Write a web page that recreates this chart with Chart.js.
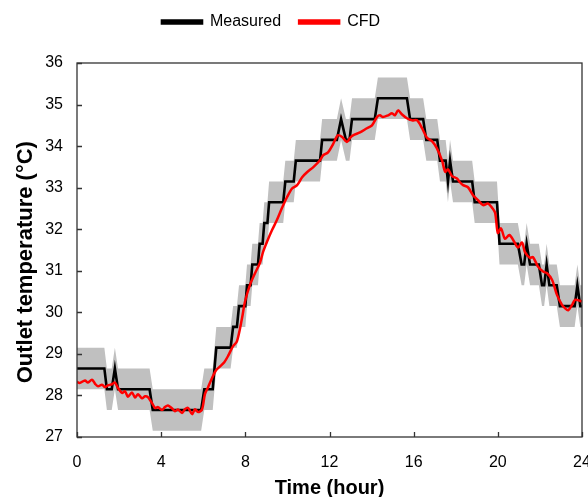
<!DOCTYPE html>
<html>
<head>
<meta charset="utf-8">
<script src="https://cdn.jsdelivr.net/npm/chart.js@4"></script>
<style>
  html, body { margin: 0; padding: 0; background: #fff; }
  #wrap { width: 588px; height: 497px; }
</style>
</head>
<body>
<div id="wrap"><canvas id="c" width="588" height="497"></canvas></div>
<script>
// measured outlet temperature (step-like sensor readings), hour / degC
const measT = [0, 1.3, 1.42, 1.65, 1.8, 1.95, 3.45, 3.6, 5.9, 6.05, 6.45, 6.62, 7.3, 7.42, 7.6, 7.7, 8.0, 8.08, 8.25, 8.33,
    8.6, 8.68, 8.82, 8.9, 9.05, 9.13, 9.8, 9.9, 10.3, 10.4, 11.55, 11.65, 12.35, 12.55, 12.78, 12.95, 13.07, 14.15, 14.3,
    15.68, 15.83, 16.45, 16.6, 17.12, 17.25, 17.52, 17.63, 17.73, 17.87, 18.78, 18.9, 19.96, 20.08, 20.95, 21.13, 21.25,
    21.37, 21.53, 21.95, 22.1, 22.2, 22.32, 22.45, 22.8, 22.95, 23.65, 23.78, 23.92, 24];
const measV = [28.65, 28.65, 28.15, 28.15, 28.65, 28.15, 28.15, 27.65, 27.65, 28.15, 28.15, 29.15, 29.15, 29.65, 29.65, 30.15,
    30.15, 30.65, 30.65, 31.15, 31.15, 31.65, 31.65, 32.15, 32.15, 32.65, 32.65, 33.15, 33.15, 33.65, 33.65, 34.15, 34.15,
    34.65, 34.15, 34.15, 34.65, 34.65, 35.15, 35.15, 34.65, 34.65, 34.15, 34.15, 33.65, 33.65, 33.15, 33.65, 33.15, 33.15,
    32.65, 32.65, 31.65, 31.65, 31.15, 31.15, 31.65, 31.15, 31.15, 30.65, 30.65, 31.15, 30.65, 30.65, 30.15, 30.15, 30.65,
    30.15, 30.15];
const measErr = 0.5; // sensor uncertainty band (+/-)

// CFD prediction
const cfdT = [0, 0.12, 0.38, 0.52, 0.71, 0.86, 1.0, 1.19, 1.33, 1.47, 1.66, 1.8, 1.95, 2.14, 2.28, 2.42, 2.61, 2.76, 2.9,
    3.09, 3.23, 3.37, 3.56, 3.71, 3.85, 4.04, 4.18, 4.32, 4.51, 4.66, 4.8, 4.99, 5.13, 5.28, 5.47, 5.61, 5.75, 5.94, 6.08,
    6.23, 6.42, 6.6, 6.8, 7.0, 7.18, 7.41, 7.6, 7.84, 7.98, 8.22, 8.46, 8.7, 8.84, 9.03, 9.27, 9.5, 9.74, 9.98, 10.22, 10.46,
    10.7, 10.93, 11.22, 11.55, 11.7, 11.93, 12.17, 12.4, 12.6, 12.83, 12.98, 13.12, 13.45, 13.78, 14.02, 14.26, 14.4, 14.54,
    14.78, 14.97, 15.11, 15.26, 15.45, 15.68, 15.92, 16.16, 16.4, 16.63, 16.87, 17.1, 17.35, 17.5, 17.63, 17.82, 18.06, 18.2,
    18.35, 18.58, 18.82, 19.06, 19.3, 19.53, 19.72, 19.87, 20.0, 20.15, 20.34, 20.55, 20.8, 20.96, 21.15, 21.29, 21.53,
    21.67, 21.91, 22.15, 22.34, 22.58, 22.81, 23.05, 23.19, 23.34, 23.53, 23.67, 23.9, 24.0];
const cfdV = [28.33, 28.3, 28.36, 28.31, 28.38, 28.28, 28.22, 28.26, 28.2, 28.24, 28.27, 28.31, 28.18, 28.06, 28.1, 27.97,
    28.07, 27.95, 28.03, 27.93, 27.98, 27.96, 27.82, 27.7, 27.72, 27.65, 27.72, 27.76, 27.69, 27.62, 27.66, 27.58, 27.67,
    27.7, 27.55, 27.67, 27.6, 27.66, 28.03, 28.2, 28.42, 28.6, 28.7, 28.8, 28.95, 29.18, 29.3, 29.85, 30.25, 30.66, 30.94,
    31.2, 31.45, 31.7, 31.98, 32.22, 32.51, 32.77, 32.98, 33.06, 33.25, 33.37, 33.49, 33.66, 33.78, 33.85, 34.05, 34.26,
    34.22, 34.1, 34.2, 34.26, 34.33, 34.43, 34.5, 34.7, 34.74, 34.7, 34.74, 34.79, 34.74, 34.86, 34.76, 34.67, 34.62, 34.62,
    34.43, 34.2, 34.12, 33.95, 33.65, 33.38, 33.44, 33.28, 33.22, 33.13, 33.06, 33.01, 32.82, 32.7, 32.58, 32.62, 32.52,
    32.4, 31.91, 32.02, 31.77, 31.86, 31.68, 31.56, 31.68, 31.45, 31.31, 31.33, 31.1, 30.98, 30.94, 30.78, 30.42, 30.18,
    30.1, 30.05, 30.18, 30.3, 30.28, 30.26];

const xTicks = { min: 0, max: 24, step: 4 };
const yTicks = { min: 27, max: 36, step: 1 };

const FONT = "'Liberation Sans', Arial, sans-serif";

function pts(ts, vs, off) {
    return ts.map((t, i) => ({ x: t, y: vs[i] + (off || 0) }));
}

// box round the plot + short inward tick marks
const frameTicks = {
    id: "frameTicks",
    afterLayout(chart) {
        // nudge the legend up and a bit left, like the original figure
        const lg = chart.legend;
        if (lg) {
            lg.top -= 23;
            lg.bottom -= 23;
            lg.left -= 20;
            lg.right -= 20;
        }
    },
    afterDatasetsDraw(chart) {
        const { ctx, chartArea: a, scales } = chart;
        ctx.save();
        ctx.strokeStyle = "#333";
        ctx.lineWidth = 1.3;
        ctx.strokeRect(a.left, a.top, a.right - a.left, a.bottom - a.top);
        ctx.beginPath();
        scales.x.ticks.forEach((t) => {
            const px = Math.round(scales.x.getPixelForValue(t.value)) + 0.5;
            ctx.moveTo(px, a.bottom);
            ctx.lineTo(px, a.bottom - 5);
        });
        scales.y.ticks.forEach((t) => {
            const py = Math.round(scales.y.getPixelForValue(t.value)) + 0.5;
            ctx.moveTo(a.left, py);
            ctx.lineTo(a.left + 5, py);
        });
        ctx.stroke();
        ctx.restore();
    },
};

new Chart(document.getElementById("c").getContext("2d"), {
    type: "line",
    data: {
        datasets: [
            {
                label: "Measured",
                data: pts(measT, measV),
                borderColor: "#000",
                backgroundColor: "#000",
                borderWidth: 2.6,
                pointRadius: 0,
                tension: 0,
                order: 1,
            },
            {
                label: "CFD",
                data: pts(cfdT, cfdV),
                borderColor: "#ff0000",
                backgroundColor: "#ff0000",
                borderWidth: 2.5,
                pointRadius: 0,
                tension: 0.3,
                order: 0,
            },
            {
                label: "band_hi",
                data: pts(measT, measV, measErr),
                borderWidth: 0,
                borderColor: "rgba(0,0,0,0)",
                backgroundColor: "#c0c0c0",
                pointRadius: 0,
                fill: "+1",
                order: 2,
            },
            {
                label: "band_lo",
                data: pts(measT, measV, -measErr),
                borderWidth: 0,
                borderColor: "rgba(0,0,0,0)",
                pointRadius: 0,
                fill: false,
                order: 2,
            },
        ],
    },
    options: {
        responsive: false,
        animation: false,
        layout: { autoPadding: false, padding: { left: 0, right: 6, top: 19, bottom: 0 } },
        plugins: {
            tooltip: { enabled: false },
            legend: {
                position: "top",
                labels: {
                    filter: (item) => item.text.indexOf("band") !== 0,
                    sort: (a, b) => a.datasetIndex - b.datasetIndex,
                    boxWidth: 40,
                    boxHeight: 3,
                    padding: 18,
                    color: "#000",
                    font: { size: 16, family: FONT },
                },
            },
        },
        scales: {
            x: {
                type: "linear",
                min: xTicks.min,
                max: xTicks.max,
                grid: { display: false, drawTicks: false },
                border: { display: false },
                afterFit: (s) => {
                    s.height = 60;
                    s.paddingLeft = 0;
                    s.paddingRight = 0;
                },
                ticks: {
                    stepSize: xTicks.step,
                    padding: 16,
                    maxRotation: 0,
                    color: "#000",
                    font: { size: 16, family: FONT },
                },
                title: {
                    display: true,
                    text: "Time (hour)",
                    color: "#000",
                    padding: { top: 0, bottom: -3 },
                    font: { size: 20, weight: "bold", family: FONT },
                },
            },
            y: {
                min: yTicks.min,
                max: yTicks.max,
                grid: { display: false, drawTicks: false },
                border: { display: false },
                afterFit: (s) => { s.width = 77; },
                ticks: {
                    stepSize: yTicks.step,
                    padding: 14,
                    color: "#000",
                    font: { size: 16, family: FONT },
                },
                title: {
                    display: true,
                    // trailing no-break spaces push the label a little lower, as in the figure
                    text: "Outlet temperature (°C)\u00a0\u00a0\u00a0\u00a0",
                    color: "#000",
                    padding: { top: 13, bottom: 0 },
                    font: { size: 22, weight: "bold", family: FONT },
                },
            },
        },
    },
    plugins: [frameTicks],
});
</script>
</body>
</html>
